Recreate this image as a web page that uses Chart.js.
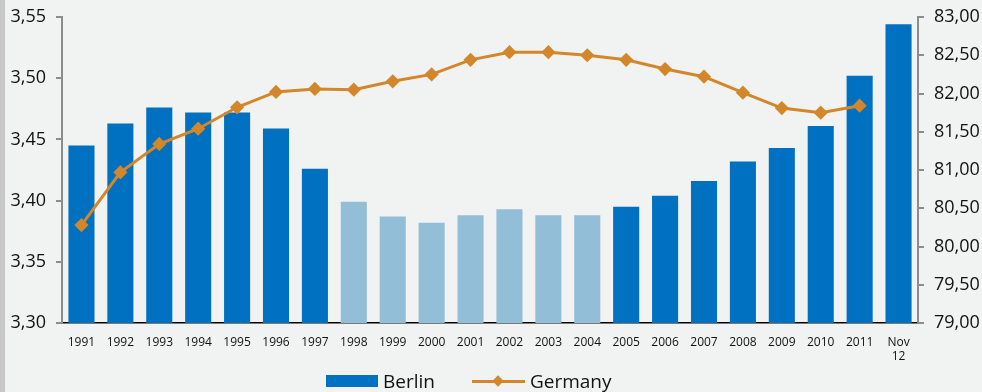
<!DOCTYPE html>
<html>
<head>
<meta charset="utf-8">
<script src="https://cdn.jsdelivr.net/npm/chart.js@4/dist/chart.umd.min.js"></script>
<style>
  html, body { margin: 0; padding: 0; background: #f1f2f2; }
  #wrap { position: relative; width: 982px; height: 392px; overflow: hidden; }
  #strip { position: absolute; left: 0; top: 0; width: 5px; height: 392px; background: #c8c8c8; }
  #legend { position: absolute; top: 368px; left: 326px; height: 26px; display: flex; align-items: center;
            font-family: "Open Sans", sans-serif; font-size: 19px; color: #111; }
  .box { width: 52px; height: 12px; background: #0070c0; margin-right: 5px; }
  .ln { position: relative; width: 53px; height: 3px; background: #d3872a; margin: 0 5px 0 37px; }
  .ln i { position: absolute; left: 22px; top: -3px; width: 8px; height: 8px; background: #d3872a; transform: rotate(45deg); }
</style>
</head>
<body>
<div id="wrap">
  <canvas id="c" width="982" height="392"></canvas>
  <div id="strip"></div>
  <div id="legend"><span class="box"></span>Berlin<span class="ln"><i></i></span>Germany</div>
</div>
<script>
// values
const years = ["1991", "1992", "1993", "1994", "1995", "1996", "1997", "1998", "1999", "2000", "2001",
  "2002", "2003", "2004", "2005", "2006", "2007", "2008", "2009", "2010", "2011", ["Nov", "12"]];
const berlin = [3.445, 3.463, 3.476, 3.472, 3.472, 3.459, 3.426, 3.399, 3.387, 3.382, 3.388,
  3.393, 3.388, 3.388, 3.395, 3.404, 3.416, 3.432, 3.443, 3.461, 3.502, 3.544];
const germany = [80.28, 80.97, 81.34, 81.54, 81.82, 82.02, 82.06, 82.05, 82.16, 82.25, 82.44,
  82.54, 82.54, 82.50, 82.44, 82.32, 82.22, 82.01, 81.81, 81.75, 81.84, null];
// 1998-2004 bars are drawn in the pale shade
const paleYears = ["1998", "1999", "2000", "2001", "2002", "2003", "2004"];

const DARK = "#0070c0", PALE = "#92bed8", ORANGE = "#d3872a";
const fmt = (v) => Number(v).toFixed(2).replace(".", ",");
const tickFont = { family: "Open Sans", size: 18 };

// fixed side widths; drop the label overflow padding so layout.padding rules the top
const fitSide = (w) => (s) => { s.width = w; s.paddingTop = 0; s.paddingBottom = 0; };

new Chart(document.getElementById("c"), {
  data: {
    labels: years,
    datasets: [
      {
        type: "line", label: "Germany", data: germany, yAxisID: "y1",
        borderColor: ORANGE, backgroundColor: ORANGE, borderWidth: 3,
        pointStyle: "rectRot", pointRadius: 5, pointHoverRadius: 5, tension: 0,
      },
      {
        type: "bar", label: "Berlin", data: berlin, yAxisID: "y",
        backgroundColor: years.map((y) => paleYears.includes(y) ? PALE : DARK),
        barPercentage: 0.67, categoryPercentage: 1,
      },
    ],
  },
  options: {
    responsive: false,
    animation: false,
    layout: { padding: { top: 17, left: 0, right: 0, bottom: 0 } },
    plugins: { legend: { display: false }, tooltip: { enabled: false } },
    scales: {
      x: {
        grid: { display: false, drawTicks: false },
        border: { color: "#000", width: 1.5 },
        ticks: { font: { family: "Open Sans", size: 12 }, color: "#111", padding: 12, maxRotation: 0, autoSkip: false },
        afterFit: (s) => { s.height = 69; s.paddingLeft = 0; s.paddingRight = 0; },
      },
      y: {
        position: "left", min: 3.30, max: 3.55,
        grid: { drawOnChartArea: false, color: "#8c8c8c", tickLength: 6, lineWidth: 2 },
        border: { color: "#8c8c8c", width: 2 },
        ticks: { stepSize: 0.05, font: tickFont, color: "#111", padding: 10, callback: fmt },
        afterFit: fitSide(62),
      },
      y1: {
        position: "right", min: 79, max: 83,
        grid: { drawOnChartArea: false, color: "#8c8c8c", tickLength: 6, lineWidth: 2 },
        border: { color: "#8c8c8c", width: 2 },
        ticks: { stepSize: 0.5, font: tickFont, color: "#111", padding: 10, callback: fmt },
        afterFit: fitSide(64),
      },
    },
  },
});
</script>
</body>
</html>
